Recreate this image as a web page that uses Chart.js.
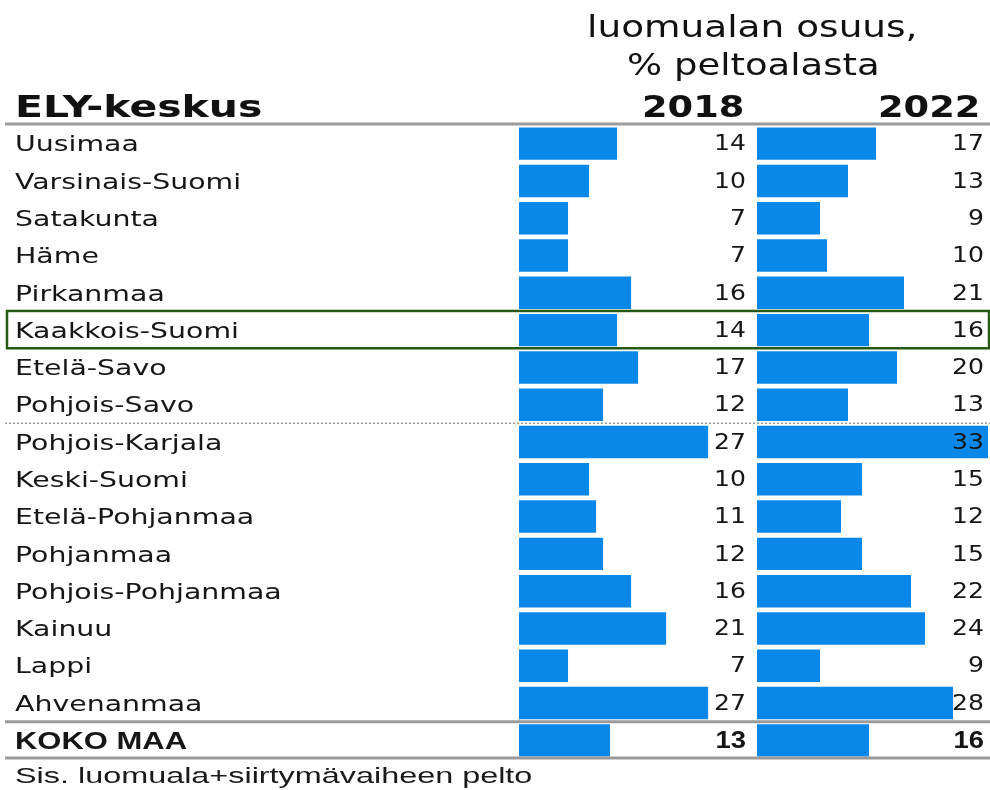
<!DOCTYPE html>
<html>
<head>
<meta charset="utf-8">
<script src="https://cdn.jsdelivr.net/npm/chart.js@4"></script>
<style>
  body { margin: 0; background: #fff; }
  #wrap { position: relative; width: 990px; height: 790px; overflow: hidden; }
  canvas { position: absolute; left: 0; top: 0; }
  .txt { position: absolute; white-space: nowrap; color: #111; line-height: 1;
         font-family: "DejaVu Sans", Verdana, sans-serif; transform-origin: 0 0; }
  .big { font-size: 31px; }
  .bold { font-weight: bold; }
  #foot { font-size: 22px; font-family: "Liberation Sans", Arial, sans-serif; color: #1a1a1a; }
</style>
</head>
<body>
<div id="wrap">
  <canvas id="c2018" width="990" height="790"></canvas>
  <canvas id="c2022" width="990" height="790"></canvas>
  <div class="txt big" id="title1">luomualan osuus,</div>
  <div class="txt big" id="title2">% peltoalasta</div>
  <div class="txt big bold" id="hdr">ELY-keskus</div>
  <div class="txt big bold" id="y1">2018</div>
  <div class="txt big bold" id="y2">2022</div>
  <div class="txt" id="foot">Sis. luomuala+siirtymävaiheen pelto</div>
</div>
<script>
const regions = ['Uusimaa', 'Varsinais-Suomi', 'Satakunta', 'Häme', 'Pirkanmaa', 'Kaakkois-Suomi',
    'Etelä-Savo', 'Pohjois-Savo', 'Pohjois-Karjala', 'Keski-Suomi', 'Etelä-Pohjanmaa', 'Pohjanmaa',
    'Pohjois-Pohjanmaa', 'Kainuu', 'Lappi', 'Ahvenanmaa', 'KOKO MAA'];
const share2018 = [14, 10, 7, 7, 16, 14, 17, 12, 27, 10, 11, 12, 16, 21, 7, 27, 13];
const share2022 = [17, 13, 9, 10, 21, 16, 20, 13, 33, 15, 12, 15, 22, 24, 9, 28, 16];

const barColor = '#0a88ea';
const textColor = '#161616';
const totalIdx = regions.length - 1;
const labelFont = '"DejaVu Sans", Verdana, sans-serif';
const totalFont = '"Liberation Sans Narrow", "Liberation Sans", sans-serif';

// the source text is rendered wide, so stretch html texts to the same box
function placeText(id, left, width, baseline) {
    const el = document.getElementById(id);
    const size = parseFloat(getComputedStyle(el).fontSize);
    el.style.left = left + 'px';
    el.style.top = (baseline - 0.846 * size) + 'px';
    el.style.transform = 'scaleX(' + (width / el.offsetWidth) + ')';
}
placeText('title1', 587, 331, 37);
placeText('title2', 627, 253, 75);
placeText('hdr', 15, 247, 117);
placeText('y1', 642, 102, 117);
placeText('y2', 878, 102, 117);
placeText('foot', 15, 518, 784);

// widen the category labels of the left axis
const wideLabels = {
    id: 'wideLabels',
    afterLayout(chart) {
        const scale = chart.scales.y;
        if (!scale || scale._wide) return;
        const orig = scale.drawLabels;
        scale.drawLabels = function(area) {
            const ctx = this.ctx;
            ctx.save();
            ctx.translate(this.left, 0);
            ctx.scale(1.29, 1);
            ctx.translate(-this.left, 0);
            orig.call(this, area);
            ctx.restore();
        };
        scale._wide = true;
    }
};

// numbers at the right end of each column
const valueLabels = {
    id: 'valueLabels',
    afterDatasetsDraw(chart, args, opts) {
        const ctx = chart.ctx;
        const meta = chart.getDatasetMeta(0);
        const values = chart.data.datasets[0].data;
        meta.data.forEach((bar, i) => {
            ctx.save();
            ctx.fillStyle = textColor;
            ctx.textAlign = 'right';
            ctx.textBaseline = 'middle';
            ctx.font = i === totalIdx ? 'bold 24px ' + totalFont : '22px ' + labelFont;
            ctx.translate(chart.chartArea.right - opts.inset, bar.y + 1);
            ctx.scale(1.14, 1);
            ctx.fillText(values[i], 0, 0);
            ctx.restore();
        });
    }
};

// table rules and the highlight box
const tableLines = {
    id: 'tableLines',
    afterDraw(chart) {
        const ctx = chart.ctx;
        const y = chart.scales.y;
        const step = y.getPixelForValue(1) - y.getPixelForValue(0);
        const edge = i => y.getPixelForValue(i) - step / 2;
        ctx.save();
        ctx.strokeStyle = '#9a9a9a';
        ctx.lineWidth = 3;
        [edge(0) - 1, edge(totalIdx), edge(totalIdx + 1) - 1].forEach(py => {
            ctx.beginPath();
            ctx.moveTo(5, py);
            ctx.lineTo(990, py);
            ctx.stroke();
        });
        ctx.lineWidth = 1.5;
        ctx.setLineDash([2, 2]);
        ctx.beginPath();
        ctx.moveTo(5, edge(8));
        ctx.lineTo(990, edge(8));
        ctx.stroke();
        ctx.setLineDash([]);
        ctx.strokeStyle = '#245a14';
        ctx.lineWidth = 2.5;
        const k = regions.indexOf('Kaakkois-Suomi');
        ctx.strokeRect(7, edge(k) - 0.5, 982, step);
        ctx.restore();
    }
};

function makeChart(id, values, padLeft, padRight, xMax, inset, showLabels, extraPlugins) {
    return new Chart(document.getElementById(id), {
        type: 'bar',
        data: {
            labels: regions,
            datasets: [{
                data: values,
                backgroundColor: barColor,
                borderWidth: 0,
                categoryPercentage: 1,
                barPercentage: 0.87
            }]
        },
        options: {
            indexAxis: 'y',
            responsive: false,
            animation: false,
            devicePixelRatio: 1,
            layout: { padding: { left: padLeft, right: padRight, top: 125, bottom: 31 } },
            plugins: {
                legend: { display: false },
                tooltip: { enabled: false },
                valueLabels: { inset: inset }
            },
            scales: {
                x: { display: false, min: 0, max: xMax },
                y: {
                    display: showLabels,
                    grid: { display: false },
                    border: { display: false },
                    afterFit: scale => { scale.width = 519 - padLeft; },
                    ticks: {
                        crossAlign: 'far',
                        padding: 0,
                        labelOffset: 2,
                        color: textColor,
                        font: c => c.index === totalIdx
                            ? { family: totalFont, size: 24, weight: 'bold' }
                            : { family: labelFont, size: 22 }
                    }
                }
            }
        },
        plugins: [valueLabels].concat(extraPlugins)
    });
}

makeChart('c2018', share2018, 15, 244, 32.4, 0, true, [wideLabels]);
makeChart('c2022', share2022, 757, 2, 33, 4, false, [tableLines]);
</script>
</body>
</html>
